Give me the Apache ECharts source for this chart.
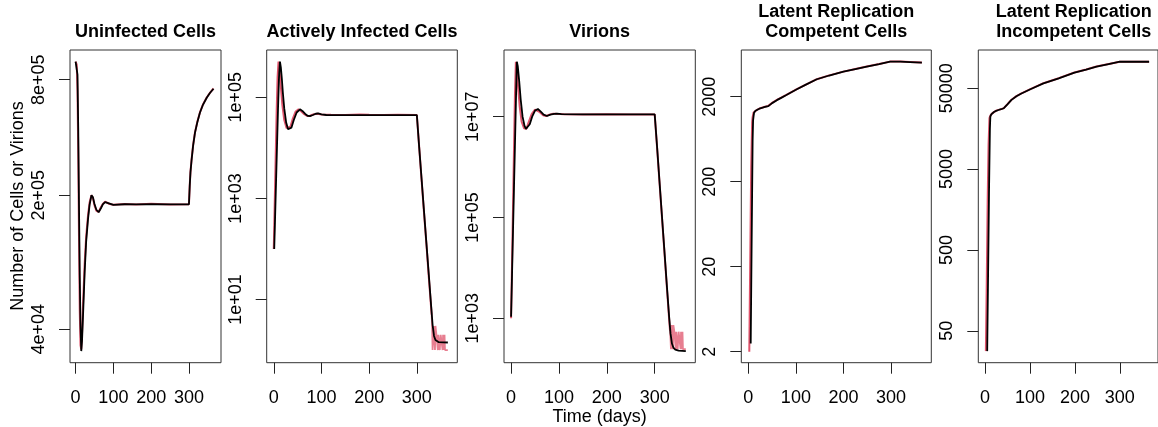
<!DOCTYPE html>
<html><head><meta charset="utf-8">
<script src="https://cdn.jsdelivr.net/npm/echarts@6/dist/echarts.min.js"></script>
<style>html,body{margin:0;padding:0;background:#fff}#c{width:1158px;height:427px}</style>
</head><body><div id="c"></div>
<script>
// ---------- DATA ----------
const xTicks = [0, 100, 200, 300];

// Panel 1: Uninfected Cells
const uninfDays = [0,3,5,7,9,11,13,15,17,20,24,28,33,37,42,46,50,55,61,67,72,78,83,90,100,130,160,200,250,300,302,304,307,311,316,322,329,337,347,356,365];
const uninfBlack = [995000,990000,850000,447000,178000,76000,41700,30800,34700,49000,79400,115000,151000,178000,200000,195000,180000,168000,163000,171000,179000,184000,185000,181000,178000,179500,179000,179500,179000,179500,222000,263000,306000,363000,424000,479000,538000,592000,644000,684000,718000];
const uninfRed = [995000,960000,700000,330000,120000,50000,33000,31500,38000,56000,88000,122000,158000,183000,200000,193000,177000,166000,164000,173000,180000,185000,184000,180000,178500,180000,179000,180500,179000,179500,224000,265000,308000,365000,426000,481000,540000,594000,646000,686000,720000];
const uninfTicks = [40000, 200000, 800000];
const uninfTickLabels = ['4e+04', '2e+05', '8e+05'];

// Panel 2: Actively Infected Cells
const activeDaysBlack = [1,3,5,7,9,11,13,15,17,19,22,26,30,34,37,42,48,55,60,66,71,76,82,88,93,100,110,150,200,250,300,305,310,315,320,325,330,333,336,339,342,346,350,365];
const activeBlack = [100,500,2510,12600,63100,251000,508000,380000,230000,126000,60300,31600,23400,22400,25100,35500,50100,57800,53700,46800,43200,42600,44700,47300,48200,46200,44700,44600,44600,44600,44600,10000,2400,562,132,31.6,7.4,3.16,1.9,1.58,1.48,1.43,1.41,1.41];
const activeDaysRed = [0,2,4,6,8,10,12,15,18,22,27,31,35,40,46,52,58,64,70,76,84,92,100,120,150,180,200,230,260,300,305,310,315,320,325,329,331];
const activeRed = [100,794,6310,50100,251000,508000,355000,158000,70800,35500,24500,22400,26300,38000,52500,58200,52500,46200,42700,43200,46200,47300,45700,45200,44700,45700,45200,44700,45200,44600,10000,2240,525,126,28,9,5];
const activeTailDays = [331,332,333,334,335,336,337,338,339,340,341,342,343,344,345,346,347,348,349,350,351,352,353,354,355,356,357,358,359,360,361,362,363,364,365];
const activeTail = [5,3,1,1,3,3,3,1,3,3,2,2,2,1,2,2,2,1,1,2,2,2,2,1,2,2,1,2,1,1,1,1,1,1,1];
const activeTicks = [10, 1000, 100000];
const activeTickLabels = ['1e+01', '1e+03', '1e+05'];

// Panel 3: Virions
const virDaysBlack = [0,2,4,6,8,10,12,14,17,20,24,28,31,35,39,44,50,56,62,68,75,82,90,96,105,150,200,250,300,305,310,315,320,325,330,333,336,339,343,350,365];
const virBlack = [1070,7410,52500,363000,2510000,17800000,123000000,100000000,50100000,22400000,10000000,6610000,5750000,5620000,7080000,10000000,13200000,14200000,12600000,11000000,10300000,11000000,11400000,11500000,11200000,11100000,11100000,11100000,11100000,2510000,525000,112000,24000,5010,1120,501,316,263,240,229,224];
const virDaysRed = [0,2,4,6,8,10,12,15,18,22,27,32,37,43,50,54,60,67,73,80,88,95,110,150,200,250,300,305,310,315,320,325,330,332];
const virRed = [1000,12600,158000,2000000,25100000,123000000,79400000,35500000,15800000,7940000,5890000,5750000,7940000,11200000,13800000,14300000,12300000,10700000,10300000,11000000,11500000,11400000,11200000,11100000,11200000,11100000,11100000,2400000,501000,105000,22400,4680,1000,562];
const virTailDays = [332,333,334,335,336,337,338,339,340,341,342,343,344,345,346,347,348,349,350,351,352,353,354,355,356,357,358,359,360,361,362,363,364,365];
const virTail = [562,400,243,736,736,736,243,736,736,542,542,542,243,542,542,542,243,243,542,542,542,542,243,542,542,243,542,243,243,243,243,243,243,243];
const virTicks = [1000, 100000, 10000000];
const virTickLabels = ['1e+03', '1e+05', '1e+07'];

// Panel 4: Latent Replication Competent Cells
const lcDaysBlack = [5,7,9,10,11,12,15,20,25,30,35,42,50,60,70,80,102,120,144,170,200,225,249,275,298,320,340,365];
const lcBlack = [2.5,40,600,1050,1175,1290,1365,1413,1459,1486,1514,1549,1679,1820,1950,2089,2443,2754,3206,3548,3936,4217,4508,4842,5164,5164,5105,5023];
const lcDaysRed = [2,4,6,8,9,11,15,20,25,30,35,42,50,60,70,80,102,120,144,170,200,225,249,275,298,320,340,365];
const lcRed = [2,25,300,1000,1150,1300,1370,1420,1460,1490,1520,1560,1690,1830,1960,2100,2450,2760,3210,3560,3940,4230,4520,4850,5170,5170,5110,5030];
const lcTicks = [2, 20, 200, 2000];
const lcTickLabels = ['2', '20', '200', '2000'];

// Panel 5: Latent Replication Incompetent Cells
const liDaysBlack = [5,7,9,11,12,14,16,20,25,30,36,42,50,59,70,80,101,130,164,199,225,248,275,300,330,365];
const liBlack = [28,251,2510,15800,22300,23700,24500,25400,26300,26900,27500,28300,31600,35900,39800,42700,48600,57500,66400,78000,85100,92500,99500,106400,106400,106400];
const liDaysRed = [2,4,6,8,10,12,16,20,25,30,36,42,50,59,70,80,101,130,164,199,225,248,275,300,330,365];
const liRed = [28,200,2000,10000,21400,22900,24500,25500,26400,27000,27600,28400,31800,36000,40000,42900,48800,57700,66600,78200,85300,92700,99700,106600,106600,106600];
const liTicks = [50, 500, 5000, 50000];
const liTickLabels = ['50', '500', '5000', '50000'];

// ---------- LAYOUT / STYLE ----------
const RED = '#DF536B', BLACK = '#000000';
const FONT = '"Liberation Sans", Arial, Helvetica, sans-serif';
const TOP = 50, HEIGHT = 312.7;

const panels = [
  { title: 'Uninfected Cells', left: 70, width: 151, y: [4.428, 6.058], ticks: uninfTicks, labels: uninfTickLabels,
    curves: [ {d: uninfDays, v: uninfRed, c: RED}, {d: uninfDays, v: uninfBlack, c: BLACK} ] },
  { title: 'Actively Infected Cells', left: 266.7, width: 190.6, y: [-0.25, 5.936], ticks: activeTicks, labels: activeTickLabels,
    curves: [ {d: activeDaysRed, v: activeRed, c: RED}, {d: activeTailDays, v: activeTail, c: RED, step: true}, {d: activeDaysBlack, v: activeBlack, c: BLACK} ] },
  { title: 'Virions', left: 504, width: 191.3, y: [2.119, 8.323], ticks: virTicks, labels: virTickLabels,
    curves: [ {d: virDaysRed, v: virRed, c: RED}, {d: virTailDays, v: virTail, c: RED, step: true}, {d: virDaysBlack, v: virBlack, c: BLACK} ] },
  { title: 'Latent Replication\nCompetent Cells', left: 741.3, width: 190, y: [0.172, 3.850], ticks: lcTicks, labels: lcTickLabels,
    curves: [ {d: lcDaysRed, v: lcRed, c: RED}, {d: lcDaysBlack, v: lcBlack, c: BLACK} ] },
  { title: 'Latent Replication\nIncompetent Cells', left: 978.3, width: 191, y: [1.304, 5.172], ticks: liTicks, labels: liTickLabels,
    curves: [ {d: liDaysRed, v: liRed, c: RED}, {d: liDaysBlack, v: liBlack, c: BLACK} ] }
];

const grid = [], xAxis = [], yAxis = [], series = [], graphic = [];
panels.forEach((p, i) => {
  grid.push({ left: p.left, top: TOP, width: p.width, height: HEIGHT, show: true,
    borderColor: '#333', borderWidth: 1, backgroundColor: 'transparent', containLabel: false });
  xAxis.push({ type: 'value', gridIndex: i, min: -14.8, max: 384.8,
    axisLine: { show: false, onZero: false },
    axisTick: { show: true, length: 11, lineStyle: { color: '#222', width: 1 }, customValues: xTicks },
    axisLabel: { show: true, margin: 26, color: '#000', fontSize: 18, fontFamily: FONT, customValues: xTicks },
    splitLine: { show: false } });
  const tv = p.ticks.map(t => Math.log10(t));
  yAxis.push({ type: 'value', gridIndex: i, min: p.y[0], max: p.y[1],
    axisLine: { show: false, onZero: false },
    axisTick: { show: true, length: 11, lineStyle: { color: '#222', width: 1 }, customValues: tv },
    axisLabel: { show: true, rotate: 90, margin: 22, color: '#000', fontSize: 18, fontFamily: FONT, customValues: tv,
      formatter: (val) => {
        let best = 0, bd = Infinity;
        tv.forEach((t, k) => { const dd = Math.abs(t - val); if (dd < bd) { bd = dd; best = k; } });
        return p.labels[best];
      } },
    splitLine: { show: false } });
  p.curves.forEach(cv => {
    series.push({ type: 'line', xAxisIndex: i, yAxisIndex: i, symbol: 'none', silent: true,
      step: cv.step ? 'end' : false, clip: true,
      lineStyle: { color: cv.c, width: cv.step ? 1.8 : (cv.c === RED ? 2 : 1.8), opacity: cv.step ? 0.75 : 1 },
      data: cv.d.map((d, k) => [d, Math.log10(cv.v[k])]) });
  });
  const twoLine = p.title.indexOf('\n') >= 0;
  graphic.push({ type: 'text', x: p.left + p.width / 2, y: twoLine ? 22 : 32.5,
    style: { text: p.title, font: 'bold 18px ' + FONT, fill: '#000', align: 'center', verticalAlign: 'middle', lineHeight: 20 } });
});

graphic.push({ type: 'text', x: 18, y: 206, rotation: Math.PI / 2,
  style: { text: 'Number of Cells or Virions', font: '18px ' + FONT, fill: '#000', align: 'center', verticalAlign: 'middle' } });
graphic.push({ type: 'text', x: 599.6, y: 417,
  style: { text: 'Time (days)', font: '18px ' + FONT, fill: '#000', align: 'center', verticalAlign: 'middle' } });

const chart = echarts.init(document.getElementById('c'), null, { renderer: 'canvas' });
chart.setOption({ animation: false, backgroundColor: '#fff', grid, xAxis, yAxis, series, graphic });
</script></body></html>
